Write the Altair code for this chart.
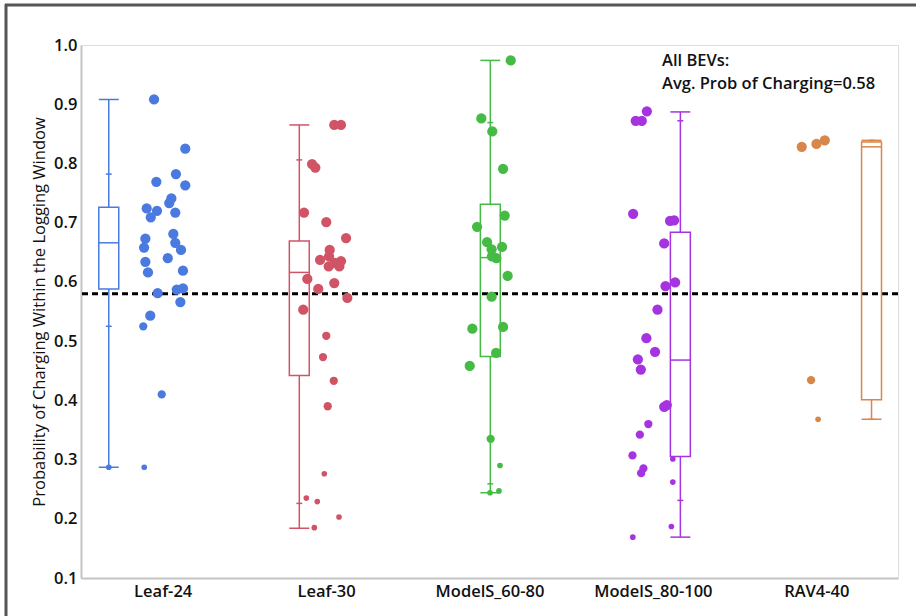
import json
import altair as alt
import pandas as pd

categories = ["Leaf-24", "Leaf-30", "ModelS_60-80", "ModelS_80-100", "RAV4-40"]
colors = ["#3f6fdc", "#d2465a", "#3db54a", "#a030dc", "#d4782a"]
box_colors = ["#4a7ae0", "#d05466", "#45bb45", "#a633e0", "#d8864a"]

# jittered observations: value, jitter (category units), weight
leaf24_val = [0.908, 0.825, 0.769, 0.782, 0.763, 0.724, 0.720, 0.709, 0.741, 0.733, 0.717, 0.673, 0.658, 0.681,
              0.666, 0.654, 0.634, 0.640, 0.616, 0.619, 0.581, 0.587, 0.589, 0.566, 0.543, 0.525, 0.410, 0.287, 0.287]
leaf24_jit = [-0.053, 0.138, -0.039, 0.081, 0.138, -0.098, -0.035, -0.073, 0.053, 0.040, 0.077, -0.106, -0.114, 0.065,
              0.077, 0.112, -0.106, 0.031, -0.090, 0.124, -0.031, 0.086, 0.124, 0.108, -0.076, -0.119, -0.006, -0.113,
              -0.330]
leaf24_w = [3] * 25 + [2, 2, 1, 1]

leaf30_val = [0.865, 0.865, 0.799, 0.793, 0.717, 0.701, 0.674, 0.654, 0.643, 0.637, 0.635, 0.632, 0.626, 0.626,
              0.605, 0.598, 0.588, 0.573, 0.553, 0.509, 0.473, 0.433, 0.390, 0.276, 0.235, 0.229, 0.203, 0.185]
leaf30_jit = [0.050, 0.091, -0.086, -0.066, -0.135, 0.001, 0.122, 0.022, 0.018, -0.037, 0.091, 0.054, 0.016, 0.081,
              -0.115, 0.050, -0.048, 0.130, -0.140, 0.001, -0.019, 0.047, 0.010, -0.011, -0.121, -0.054, 0.079, -0.072]
leaf30_w = [3] * 19 + [2, 2, 2, 2] + [1] * 5

ms6080_val = [0.974, 0.876, 0.854, 0.791, 0.712, 0.693, 0.667, 0.655, 0.659, 0.643, 0.640, 0.610, 0.575, 0.521,
              0.524, 0.480, 0.458, 0.335, 0.290, 0.244, 0.247]
ms6080_jit = [0.130, -0.050, 0.017, 0.083, 0.093, -0.076, -0.015, 0.013, 0.077, 0.015, 0.042, 0.111, 0.013, -0.105,
              0.083, 0.040, -0.121, 0.007, 0.064, 0.003, 0.058]
ms6080_w = [3] * 17 + [2, 1, 1, 1]

ms80100_val = [0.888, 0.872, 0.872, 0.715, 0.703, 0.704, 0.665, 0.599, 0.593, 0.553, 0.505, 0.482, 0.469, 0.452,
               0.389, 0.392, 0.360, 0.342, 0.307, 0.285, 0.277, 0.301, 0.262, 0.187, 0.169]
ms80100_jit = [-0.037, -0.105, -0.068, -0.121, 0.105, 0.130, 0.069, 0.136, 0.077, 0.028, -0.040, 0.013, -0.092, -0.074,
               0.069, 0.085, -0.028, -0.080, -0.125, -0.058, -0.072, 0.122, 0.122, 0.113, -0.123]
ms80100_w = [3] * 16 + [2] * 5 + [1] * 4

rav4_val = [0.828, 0.833, 0.839, 0.434, 0.368]
rav4_jit = [-0.089, 0.001, 0.052, -0.032, 0.011]
rav4_w = [3, 3, 3, 2, 1]

# box plot summaries per category
box_offset = [-0.330, -0.164, 0.005, 0.168, 0.338]
whisk_hi = [0.908, 0.865, 0.974, 0.887, 0.839]
p90 = [0.782, 0.806, 0.869, 0.872, 0.839]
q3 = [0.726, 0.669, 0.731, 0.684, 0.836]
median = [0.666, 0.616, 0.641, 0.468, 0.828]
q1 = [0.588, 0.442, 0.474, 0.305, 0.401]
p10 = [0.525, 0.226, 0.259, 0.231, 0.368]
whisk_lo = [0.287, 0.184, 0.244, 0.169, 0.368]

avg_prob = 0.58
note_lines = ["All BEVs:", "Avg. Prob of Charging=0.58"]

# ---------- tables ----------
series = [(leaf24_val, leaf24_jit, leaf24_w), (leaf30_val, leaf30_jit, leaf30_w),
          (ms6080_val, ms6080_jit, ms6080_w), (ms80100_val, ms80100_jit, ms80100_w),
          (rav4_val, rav4_jit, rav4_w)]
rows = []
for i, (vals, jits, ws) in enumerate(series):
    for v, j, w in zip(vals, jits, ws):
        rows.append({"cat": categories[i], "x": i + 0.5 + j, "val": v, "w": w})
pts = pd.DataFrame(rows)

BW = 0.061
TW = 0.018
brows = []
for i, c in enumerate(categories):
    xc = i + 0.5 + box_offset[i]
    brows.append({"cat": c, "xc": xc, "xl": xc - BW, "xr": xc + BW, "xtl": xc - TW, "xtr": xc + TW,
                  "hi": whisk_hi[i], "p90": p90[i], "q3": q3[i], "med": median[i], "q1": q1[i],
                  "p10": p10[i], "lo": whisk_lo[i]})
box = pd.DataFrame(brows)

FONT = "Open Sans"
xs = alt.Scale(domain=[0, 5], nice=False, zero=False)
ys = alt.Scale(domain=[0.1, 1.0], nice=False, zero=False)
label_expr = json.dumps(categories) + "[floor(datum.value)]"
xa = alt.Axis(values=[0.5, 1.5, 2.5, 3.5, 4.5], labelExpr=label_expr, ticks=False, grid=False, title=None,
              labelFontSize=16.5, labelFontWeight=600, labelColor="#111111", labelFont=FONT,
              domainColor="#c4c4c4", domainWidth=2, labelPadding=5)
ya = alt.Axis(values=[0.1, 0.2, 0.3, 0.4, 0.5, 0.6, 0.7, 0.8, 0.9, 1.0], format=".1f", ticks=False, grid=False,
              title="Probability of Charging Within the Logging Window", titleFontSize=16.5,
              titleFontWeight="normal", titleColor="#111111", titleFont=FONT, titlePadding=6,
              labelFontSize=16.5, labelFontWeight=600, labelColor="#111111", labelFont=FONT,
              domainColor="#c4c4c4", domainWidth=2, labelPadding=4)


def X(f):
    return alt.X(f, type="quantitative", scale=xs, axis=xa)


def Y(f):
    return alt.Y(f, type="quantitative", scale=ys, axis=ya)


col_box = alt.Color("cat:N", scale=alt.Scale(domain=categories, range=box_colors), legend=None)
col_pt = alt.Color("cat:N", scale=alt.Scale(domain=categories, range=colors), legend=None)

avg_line = alt.Chart(pd.DataFrame({"avg": [avg_prob]})).mark_rule(
    color="black", strokeWidth=3, strokeDash=[6, 4]).encode(y=Y("avg"))

base_box = alt.Chart(box)
rect = base_box.mark_rect(fillOpacity=0, strokeWidth=1.5).encode(
    x=X("xl"), x2="xr", y=Y("q3"), y2="q1",
    stroke=alt.Stroke("cat:N", scale=alt.Scale(domain=categories, range=box_colors), legend=None))
med = base_box.mark_rule(strokeWidth=1.5).encode(x=X("xl"), x2="xr", y=Y("med"), color=col_box)
wh_up = base_box.mark_rule(strokeWidth=1.5).encode(x=X("xc"), y=Y("q3"), y2="hi", color=col_box)
wh_dn = base_box.mark_rule(strokeWidth=1.5).encode(x=X("xc"), y=Y("q1"), y2="lo", color=col_box)
cap_hi = base_box.mark_rule(strokeWidth=1.5).encode(x=X("xl"), x2="xr", y=Y("hi"), color=col_box)
cap_lo = base_box.mark_rule(strokeWidth=1.5).encode(x=X("xl"), x2="xr", y=Y("lo"), color=col_box)
tk_hi = base_box.mark_rule(strokeWidth=1.5).encode(x=X("xtl"), x2="xtr", y=Y("p90"), color=col_box)
tk_lo = base_box.mark_rule(strokeWidth=1.5).encode(x=X("xtl"), x2="xtr", y=Y("p10"), color=col_box)

points = alt.Chart(pts).mark_circle(opacity=1).encode(
    x=X("x"), y=Y("val"), color=col_pt,
    size=alt.Size("w:Q", scale=alt.Scale(domain=[1, 3], range=[32, 105]), legend=None))

note = alt.Chart(pd.DataFrame({"x": [3.556, 3.556], "y": [0.973, 0.934], "t": note_lines})).mark_text(
    align="left", baseline="middle", fontSize=16.5, font=FONT, fontWeight=600, color="#111111").encode(
    x=X("x"), y=Y("y"), text="t:N")

one = pd.DataFrame({"k": [0]})
frame_top = alt.Chart(one).mark_rule(color="#555555", strokeWidth=3).encode(
    x=alt.value(-76), x2=alt.value(835), y=alt.value(-40))
frame_left = alt.Chart(one).mark_rule(color="#555555", strokeWidth=3).encode(
    x=alt.value(-75), y=alt.value(-41), y2=alt.value(571))

chart = alt.layer(avg_line, rect, med, wh_up, wh_dn, cap_hi, cap_lo, tk_hi, tk_lo, points, note,
                  frame_top, frame_left).properties(
    width=817, height=533, autosize=alt.AutoSizeParams(type="none"),
    padding={"left": 81, "top": 45, "right": 18, "bottom": 38},
).configure_view(stroke="#c4c4c4", strokeWidth=2).configure(background="white")

chart.save("out.html", embed_options={"renderer": "svg", "actions": False})
